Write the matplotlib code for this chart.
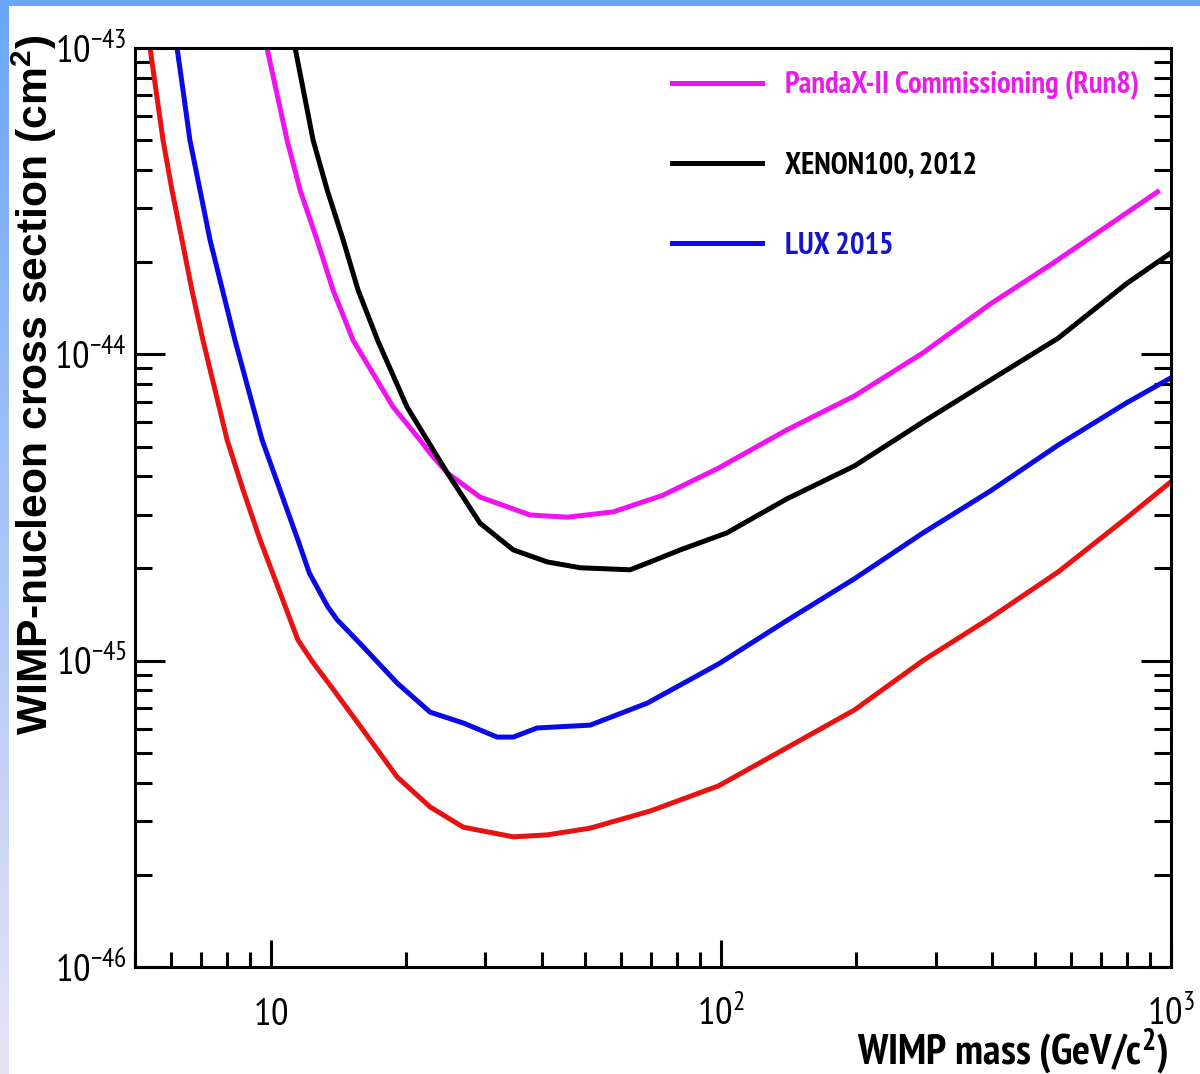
import numpy as np
import matplotlib

matplotlib.use("Agg")
import matplotlib.pyplot as plt
from matplotlib import font_manager, ticker
from matplotlib.patches import Rectangle

# WIMP mass (GeV/c^2) and cross section (cm^2)
red_mass = [5.40, 5.77, 6.04, 6.36, 6.69, 7.08, 7.53, 8.01, 8.69, 9.48, 11.5, 12.4,
            13.56, 16.06, 19.11, 22.62, 26.8, 34.6, 41.2, 51.3, 69.7, 98.8, 140,
            198, 281, 397, 562, 796, 998]
red_xsec = [1.0e-43, 5.01e-44, 3.44e-44, 2.36e-44, 1.62e-44, 1.11e-44, 7.64e-45,
            5.25e-45, 3.61e-45, 2.48e-45, 1.17e-45, 9.9e-46, 8.32e-46, 5.93e-46,
            4.17e-46, 3.33e-46, 2.86e-46, 2.66e-46, 2.70e-46, 2.84e-46, 3.23e-46,
            3.90e-46, 5.19e-46, 6.90e-46, 1.00e-45, 1.38e-45, 1.95e-45, 2.92e-45,
            3.83e-45]

lux_mass = [6.20, 6.39, 6.62, 7.34, 8.34, 9.58, 11.5, 12.2, 13.4, 14.06, 16.06,
            19.11, 22.62, 26.8, 31.87, 34.6, 39.1, 51.3, 68.7, 98.8, 140, 198, 281,
            397, 562, 796, 998]
lux_xsec = [1.0e-43, 7.30e-44, 5.01e-44, 2.36e-44, 1.11e-44, 5.25e-45, 2.48e-45,
            1.93e-45, 1.50e-45, 1.36e-45, 1.11e-45, 8.45e-46, 6.79e-46, 6.26e-46,
            5.63e-46, 5.63e-46, 6.03e-46, 6.16e-46, 7.27e-46, 9.75e-46, 1.35e-45,
            1.85e-45, 2.61e-45, 3.58e-45, 5.06e-45, 6.94e-45, 8.37e-45]

run8_mass = [9.82, 10.88, 11.63, 12.69, 13.77, 15.26, 18.72, 21.49, 22.6, 24.7,
             29.2, 37.7, 45.6, 57.7, 74.5, 98.8, 140, 198, 281, 397, 540, 933]
run8_xsec = [1.0e-43, 5.01e-44, 3.44e-44, 2.36e-44, 1.62e-44, 1.11e-44, 6.73e-45,
             5.25e-45, 4.76e-45, 4.10e-45, 3.42e-45, 2.99e-45, 2.94e-45, 3.06e-45,
             3.47e-45, 4.25e-45, 5.66e-45, 7.31e-45, 1.01e-44, 1.46e-44, 1.96e-44,
             3.39e-44]

xenon_mass = [11.34, 12.43, 13.36, 14.5, 15.65, 17.3, 20.1, 24.7, 29.2, 34.6,
              41.2, 48.8, 62.9, 69.7, 81.3, 103, 140, 198, 281, 397, 562, 796, 998]
xenon_xsec = [1.0e-43, 5.01e-44, 3.44e-44, 2.36e-44, 1.62e-44, 1.11e-44, 6.73e-45,
              4.10e-45, 2.81e-45, 2.30e-45, 2.10e-45, 2.01e-45, 1.98e-45, 2.10e-45,
              2.30e-45, 2.61e-45, 3.37e-45, 4.32e-45, 6.01e-45, 8.24e-45, 1.13e-44,
              1.70e-44, 2.14e-44]

legend_labels = ["PandaX-II Commissioning (Run8)", "XENON100, 2012", "LUX 2015"]
x_ticks = [10, 100, 1000]
x_ticklabels = ["$10$", "$10^{2}$", "$10^{3}$"]
y_ticks = [1e-46, 1e-45, 1e-44, 1e-43]
y_ticklabels = ["$10^{-46}$", "$10^{-45}$", "$10^{-44}$", "$10^{-43}$"]


def pick_font(candidates):
    weights = {}
    for f in font_manager.fontManager.ttflist:
        try:
            w = int(f.weight)
        except (TypeError, ValueError):
            w = 700 if "bold" in str(f.weight) else 400
        weights.setdefault(f.name, set()).add(w)
    for name in candidates:
        w = weights.get(name, set())
        if any(x >= 700 for x in w) and any(x < 600 for x in w):
            return name
    return "Liberation Sans"


FONT = pick_font(["Liberation Sans Narrow", "Arial Narrow", "PT Sans Narrow",
                  "Pragati Narrow", "Archivo Narrow", "Roboto Condensed"])
plt.rcParams["font.family"] = [FONT, "DejaVu Sans"]
plt.rcParams["mathtext.default"] = "regular"

W, H = 1200, 1074
fig = plt.figure(figsize=(W / 100, H / 100), dpi=100)

# slide background: blue strip on top, gradient strip on the left
bg = fig.add_axes([0, 0, 1, 1], zorder=-10)
top_col = np.array([106, 166, 248]) / 255
bot_col = np.array([232, 228, 246]) / 255
t = np.linspace(0, 1, 256)[:, None]
grad = (top_col * (1 - t) + bot_col * t)[:, None, :]
bg.imshow(grad, extent=[0, 1, 0, 1], aspect="auto")
bg.add_patch(Rectangle((9 / W, 0), 1, 1 - 6 / H, color="white", lw=0))
bg.set_xlim(0, 1)
bg.set_ylim(0, 1)
bg.axis("off")

ax = fig.add_axes([135 / W, 1 - 967 / H, (1171 - 135) / W, (967 - 48) / H])
ax.set_xscale("log")
ax.set_yscale("log")

lw = 3.6
ax.plot(red_mass, red_xsec, color="#e81212", lw=lw)
l_run8, = ax.plot(run8_mass, run8_xsec, color="#f012f0", lw=lw)
l_xenon, = ax.plot(xenon_mass, xenon_xsec, color="black", lw=lw)
l_lux, = ax.plot(lux_mass, lux_xsec, color="#0a0ae6", lw=lw)

ax.set_xlim(5, 1000)
ax.set_ylim(1e-46, 1e-43)

ax.set_xticks(x_ticks, x_ticklabels)
ax.xaxis.set_minor_locator(ticker.LogLocator(base=10, subs=np.arange(2, 10), numticks=50))
ax.xaxis.set_minor_formatter(ticker.NullFormatter())
ax.set_yticks(y_ticks, y_ticklabels)
ax.yaxis.set_minor_locator(ticker.LogLocator(base=10, subs=np.arange(2, 10), numticks=50))
ax.yaxis.set_minor_formatter(ticker.NullFormatter())

ax.tick_params(axis="y", which="both", direction="in", left=True, right=True,
               width=2.2, labelsize=28, pad=6)
ax.tick_params(axis="y", which="major", length=21.6)
ax.tick_params(axis="y", which="minor", length=12)
ax.tick_params(axis="x", which="both", direction="in", top=False, bottom=True,
               width=2.2, labelsize=28, pad=42)
ax.tick_params(axis="x", which="major", length=19.5)
ax.tick_params(axis="x", which="minor", length=11)
for lab in ax.get_xticklabels():
    lab.set_va("baseline")
for sp in ax.spines.values():
    sp.set_linewidth(2.2)

leg = ax.legend([l_run8, l_xenon, l_lux], legend_labels, loc="upper left",
                bbox_to_anchor=(672 / W, 1 - 71 / H), bbox_transform=fig.transFigure,
                frameon=False, handlelength=2.95, handletextpad=0.74, labelspacing=1.7,
                borderpad=0, borderaxespad=0,
                prop={"family": [FONT], "weight": "bold", "size": 22})
for txt, col in zip(leg.get_texts(), ["#e81ee8", "black", "#1414c8"]):
    txt.set_color(col)

fig.text(1168 / W, 1 - 1064 / H, "WIMP mass (GeV/c$^{2}$)", ha="right",
         va="baseline", fontsize=30.5, fontweight="bold")
fig.text(34 / W, 1 - 35 / H, "WIMP-nucleon cross section (cm$^{2}$)", rotation=90,
         ha="center", va="top", fontsize=30.7, fontweight="bold",
         family=["Liberation Sans", "DejaVu Sans"])

fig.savefig("out.png", dpi=100)
